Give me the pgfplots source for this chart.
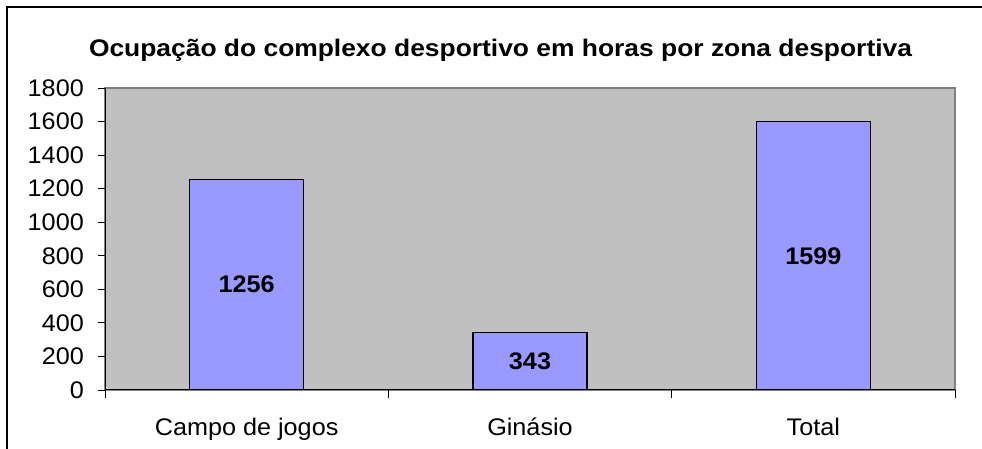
\documentclass[border=0pt]{standalone}
\usepackage{fontspec}
\setmainfont{Liberation Sans}[FakeStretch=1.05]
\newfontfamily\titlefont{Liberation Sans}[FakeStretch=1.10]
\usepackage{pgfplots}
\pgfplotsset{compat=1.18}
\definecolor{plotbg}{HTML}{C0C0C0}
\definecolor{barfill}{HTML}{9999FF}
\definecolor{plotedge}{HTML}{808080}

\begin{document}
\begin{tikzpicture}[x=1pt,y=1pt]
\useasboundingbox (0,0) rectangle (982,449);
\draw[line width=1.2pt] (7,0) -- (7,442) -- (982,442);
\node[font=\titlefont\fontsize{24}{28}\selectfont\bfseries, anchor=base] at (500.5,392.5) {Ocupação do complexo desportivo em horas por zona desportiva};
\begin{axis}[
  at={(105pt,59pt)}, anchor=south west,
  scale only axis, width=850pt, height=302pt,
  ybar, bar width=114pt,
  xmin=-0.5, xmax=2.5, ymin=0, ymax=1800,
  ytick={0,200,...,1800},
  xtick={0,1,2},
  xticklabels={Campo de jogos, Ginásio, Total},
  minor xtick={-0.5,0.5,1.5,2.5},
  major x tick style={draw=none},
  tick align=outside,
  minor tick length=8pt, major tick length=7pt,
  tick style={black, line width=0.8pt},
  axis x line*=bottom, axis y line*=left,
  axis line style={black, line width=1pt},
  axis background/.style={fill=plotbg, draw=plotedge, line width=1.2pt},
  /pgf/number format/assume math mode=true,
  /pgf/number format/1000 sep={},
  tick label style={font=\fontsize{24}{28}\selectfont},
  yticklabel style={anchor=east, inner sep=0pt, xshift=-14pt},
  xticklabel style={anchor=base, inner sep=0pt, yshift=-39pt},
  visualization depends on=rawy\as\rawy,
  nodes near coords,
  nodes near coords style={anchor=center, font=\fontsize{24}{28}\selectfont\bfseries,
    shift={(axis direction cs:0,-\rawy/2)}},
]
\addplot[fill=barfill, draw=black, line width=1.2pt] coordinates {(0,1256) (1,343) (2,1599)};
\end{axis}
\end{tikzpicture}
\end{document}
